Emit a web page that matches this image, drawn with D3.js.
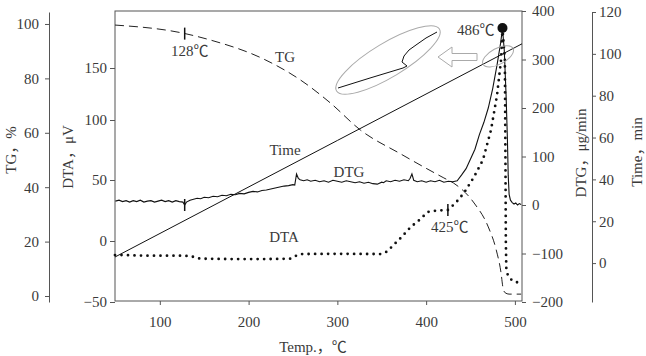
<!DOCTYPE html>
<html><head><meta charset="utf-8">
<script src="https://cdn.jsdelivr.net/npm/d3@7"></script>
<style>
body{margin:0;background:#fff;}
</style></head>
<body><svg id="c" width="646" height="356"></svg>
<script>
// ---- data ----
const tgTemp = [49.5, 125, 157, 217, 258.5, 292, 326, 371.5, 420, 431, 454, 470, 479, 484.4, 486.6, 489, 493.4, 507];
const tgVal  = [99.6, 96.7, 94.1, 87.1, 79.4, 71.0, 61.0, 52.2, 43.4, 41.5, 34.2, 25.4, 16.9, 8.5, 3.0, 1.2, 0.7, 0.7];

const timeTemp = [49.5, 300, 508];
const timeVal  = [2.9, 58.6, 104.8];

const dtgTemp = [50,54,58,62,66,70,74,78,82,86,90,94,98,102,106,110,114,118,122,126,128,130,134,138,142,146,150,155,160,165,170,175,180,185,190,195,200,205,210,215,220,225,230,235,240,245,250,252,254,256,258,262,266,270,275,280,285,290,295,300,305,310,315,320,325,330,335,340,345,350,352,355,360,365,370,375,380,382,384,386,390,395,400,405,410,415,420,425,430,435,440,445,450,455,460,465,470,475,480,484,486,488,490,491.5,492.5,493.5,495,497,499,501,503,505,507];
const dtgVal  = [8,10,7,9,6,9,7,10,6,8,9,6,8,10,7,9,6,9,7,6,0,6,10,12,14,13,16,15,18,17,20,19,22,21,24,23,26,28,27,30,31,33,35,37,39,40,42,41,64,55,52,50,52,49,51,48,50,47,51,49,47,50,48,46,48,45,47,44,43,47,46,50,48,51,49,52,50,55,64,51,48,50,47,50,48,51,47,49,48,50,62,75,95,115,145,170,200,240,290,335,364,320,230,140,60,22,10,5,2,4,0,3,1];

const dtaTemp = [49.5,60,80,100,120,134,145.5,180,220,247,252.8,258.5,300,348.8,355,360,372,382.7,392,401.9,412,424.5,433,442.6,453.9,464,473.1,479.9,484.4,486,488.7,489.3,489.8,490.3,492,495,498,503.5];
const dtaVal  = [-11.5,-11.5,-12,-12,-12,-12.3,-14.5,-14.8,-14.8,-14.5,-12.3,-10.7,-10.5,-10.7,-9,-5.7,3,11.5,17,23.8,25,25.4,31,39.3,52.5,66.7,91.7,124,157.7,188.5,158,75,0,-22,-28,-31,-33,-34];

const xTicks = [100,200,300,400,500];
const tgTicks = [0,20,40,60,80,100];
const dtaTicks = [-50,0,50,100,150];
const dtgTicks = [-200,-100,0,100,200,300,400];
const timeTicks = [0,20,40,60,80,100,120];

const peakT = 486, peakDTA = 188.5;
const mark128 = 128, mark425 = 424.5;

// ---- scales ----
const FONT = "'Liberation Serif', 'Times New Roman', Times, 'Noto Sans CJK SC', serif";
const svg = d3.select("#c");
const L = 115, R = 522, T = 11, B = 301;
const x = d3.scaleLinear().domain([49.5, 508]).range([L, R]);
const yTG = d3.scaleLinear().domain([-2.2, 104.4]).range([302, 12]);
const yDTA = d3.scaleLinear().domain([-50, 0, 50, 100, 150]).range([302, 241, 180, 120, 68]);
const yDTG = d3.scaleLinear().domain([-200, 400]).range([302, 11]);
const yTime = d3.scaleLinear().domain([-18.6, 120]).range([302, 12]);

const fs = "15px";
function styleAxis(g){
  g.attr("font-family", null).attr("font-size", null);
  g.selectAll("text").style("font-size", fs).style("font-family", FONT).attr("fill", "#3a3a3a");
  g.selectAll("line").attr("stroke", "#555");
  g.selectAll("path.domain").attr("stroke", "#555");
}

// frame
svg.append("rect").attr("x", L).attr("y", T).attr("width", R - L).attr("height", B - T)
  .attr("fill", "none").attr("stroke", "#555").attr("stroke-width", 1);

// x axis
svg.append("g").attr("transform", `translate(0,${B})`)
  .call(d3.axisBottom(x).tickValues(xTicks).tickSize(4).tickPadding(11).tickSizeOuter(0))
  .call(g => g.select(".domain").remove()).call(styleAxis);

// TG axis
svg.append("g").attr("transform", "translate(49,0)")
  .call(d3.axisLeft(yTG).tickValues(tgTicks).tickSize(4).tickPadding(6).tickSizeOuter(0))
  .call(styleAxis);

// DTA axis
svg.append("g").attr("transform", `translate(${L},0)`)
  .call(d3.axisLeft(yDTA).tickValues(dtaTicks).tickSize(5).tickPadding(3).tickSizeOuter(0))
  .call(g => g.select(".domain").remove()).call(styleAxis);

// DTG axis
svg.append("g").attr("transform", `translate(${R},0)`)
  .call(d3.axisRight(yDTG).tickValues(dtgTicks).tickSize(4).tickPadding(6).tickSizeOuter(0)
        .tickFormat(d => d < 0 ? "\u2212" + Math.abs(d) : d))
  .call(g => g.select(".domain").remove()).call(styleAxis);

// Time axis
svg.append("g").attr("transform", "translate(592,0)")
  .call(d3.axisRight(yTime).tickValues(timeTicks).tickSize(4).tickPadding(3).tickSizeOuter(0))
  .call(styleAxis);

// axis titles
function vtitle(cx, cy, txt){
  svg.append("text").attr("transform", `translate(${cx},${cy}) rotate(-90)`)
    .attr("text-anchor", "middle").attr("dominant-baseline", "central")
    .style("font-size", fs).style("font-family", FONT).attr("fill", "#3a3a3a").text(txt);
}
vtitle(11, 150, "TG\uFF0C%");
vtitle(68, 157, "DTA\uFF0C\u03BCV");
vtitle(581, 153, "DTG\uFF0C\u03BCg/min");
vtitle(637, 152, "Time\uFF0Cmin");
svg.append("text").attr("x", 313).attr("y", 352).attr("text-anchor", "middle")
  .style("font-size", fs).style("font-family", FONT).attr("fill", "#3a3a3a").text("Temp.\uFF0C\u2103");

// ---- series ----
const g = svg.append("g");
const tgData = tgTemp.map((t, i) => [t, tgVal[i]]);
g.append("path").datum(tgData)
  .attr("d", d3.line().x(d => x(d[0])).y(d => yTG(d[1])).curve(d3.curveMonotoneX))
  .attr("fill", "none").attr("stroke", "#222").attr("stroke-width", 1).attr("stroke-dasharray", "9,5");

const timeData = timeTemp.map((t, i) => [t, timeVal[i]]);
g.append("path").datum(timeData)
  .attr("d", d3.line().x(d => x(d[0])).y(d => yTime(d[1])))
  .attr("fill", "none").attr("stroke", "#111").attr("stroke-width", 1);

const dtgData = dtgTemp.map((t, i) => [t, dtgVal[i]]);
g.append("path").datum(dtgData)
  .attr("d", d3.line().x(d => x(d[0])).y(d => yDTG(d[1])))
  .attr("fill", "none").attr("stroke", "#111").attr("stroke-width", 1.1);

const dtaData = dtaTemp.map((t, i) => [t, dtaVal[i]]);
g.append("path").datum(dtaData)
  .attr("d", d3.line().x(d => x(d[0])).y(d => yDTA(d[1])))
  .attr("fill", "none").attr("stroke", "#111").attr("stroke-width", 2.8)
  .attr("stroke-linecap", "round").attr("stroke-dasharray", "0,6.5");

// markers
function vmark(t, y){
  g.append("line").attr("x1", x(t)).attr("x2", x(t)).attr("y1", y - 6).attr("y2", y + 6)
    .attr("stroke", "#111").attr("stroke-width", 1.5);
}
vmark(mark128, yTG(d3.scaleLinear().domain(tgTemp).range(tgVal)(mark128)));
vmark(mark128, yDTG(0));
vmark(mark425, yDTA(25.4));
g.append("circle").attr("cx", x(peakT)).attr("cy", yDTA(peakDTA)).attr("r", 5).attr("fill", "#111");

// labels
function lab(px, py, txt, anchor){
  svg.append("text").attr("x", px).attr("y", py).attr("text-anchor", anchor || "middle")
    .style("font-size", fs).style("font-family", FONT).attr("fill", "#3a3a3a").text(txt);
}
lab(x(128) + 5, 56, "128\u2103");
lab(285, 62, "TG");
lab(285, 155, "Time");
lab(349, 177, "DTG");
lab(284, 242, "DTA");
lab(x(mark425) + 2, 232, "425\u2103");
lab(x(peakT) - 8, 35, "486\u2103", "end");

// inset illustration
const ann = svg.append("g");
ann.append("ellipse").attr("cx", 388).attr("cy", 60).attr("rx", 60).attr("ry", 17)
  .attr("transform", "rotate(-31,388,60)").attr("fill", "none").attr("stroke", "#aaa");
ann.append("path")
  .attr("d", d3.line()([[338,88],[370,78],[403,68],[407,66],[402,62],[404,56],[409,50],[416,45],[426,38],[437,32]]))
  .attr("fill", "none").attr("stroke", "#111").attr("stroke-width", 1);
ann.append("polygon")
  .attr("points", "438,57 452,47 452,53.5 477,53.5 477,60.5 452,60.5 452,67")
  .attr("fill", "#fff").attr("stroke", "#aaa");
const tx = 481;
const tyv = yTime(d3.scaleLinear().domain(timeTemp).range(timeVal)(tx));
ann.append("ellipse").attr("cx", x(tx)).attr("cy", tyv)
  .attr("rx", 17).attr("ry", 8)
  .attr("transform", `rotate(-28,${x(tx)},${tyv})`)
  .attr("fill", "none").attr("stroke", "#aaa");
</script></body></html>
